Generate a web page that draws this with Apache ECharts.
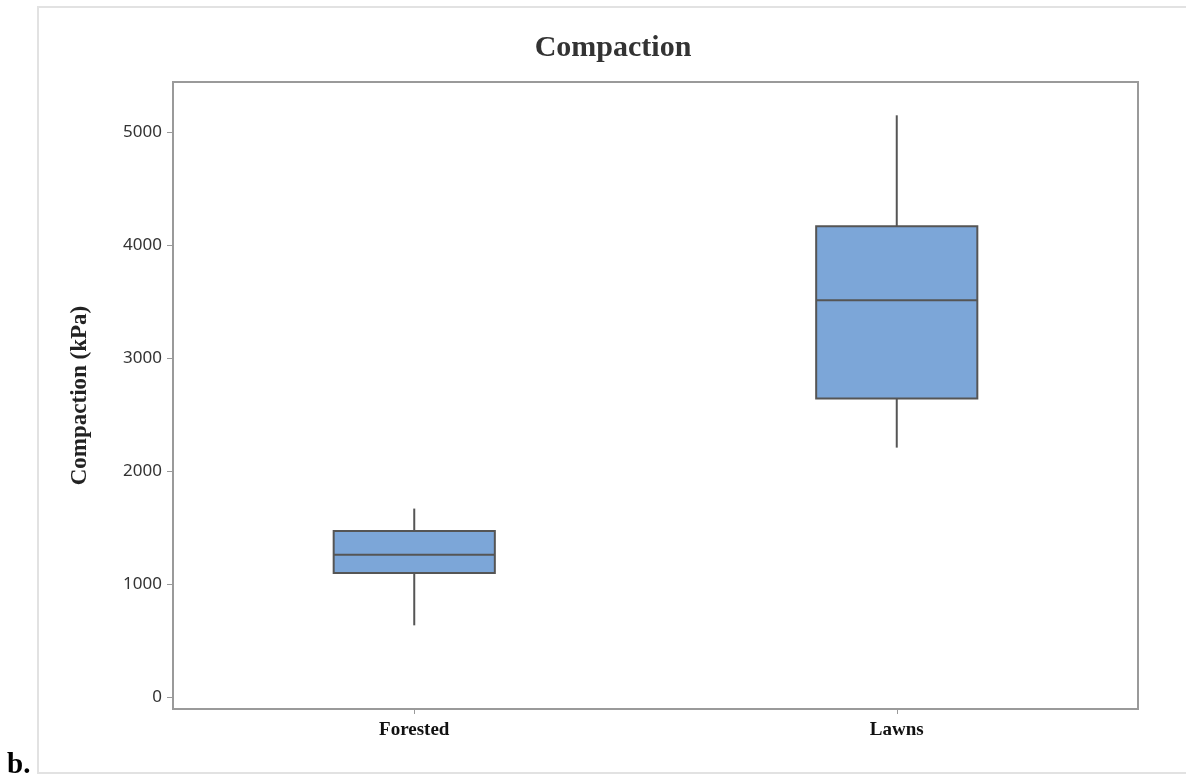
<!DOCTYPE html>
<html>
<head>
<meta charset="utf-8">
<script src="https://cdn.jsdelivr.net/npm/echarts@6/dist/echarts.min.js"></script>
<style>
html,body{margin:0;padding:0;background:#fff;}
#chart{width:1186px;height:778px;}
</style>
</head>
<body>
<div id="chart"></div>
<script>
// Data
const categories = ['Forested', 'Lawns'];
const whiskerLow = [635, 2209];
const q1 = [1098, 2643];
const medians = [1261, 3514];
const q3 = [1470, 4169];
const whiskerHigh = [1669, 5152];
const yTicks = [0, 1000, 2000, 3000, 4000, 5000];
const titleText = 'Compaction';
const yName = 'Compaction (kPa)';

const boxData = categories.map((c, i) => [i, whiskerLow[i], q1[i], medians[i], q3[i], whiskerHigh[i]]);

const chart = echarts.init(document.getElementById('chart'));
const lineCol = '#555';
chart.setOption({
  animation: false,
  backgroundColor: '#fff',
  grid: { left: 173, right: 48, top: 82, bottom: 69, show: true, borderColor: '#9a9a9a', borderWidth: 2, backgroundColor: 'transparent' },
  graphic: [
    { type: 'rect', shape: { x: 38, y: 7, width: 1160, height: 766 }, style: { fill: 'none', stroke: '#e2e2e2', lineWidth: 2 }, z: -1 },
    { type: 'text', x: 613, y: 48, style: { text: titleText, font: 'bold 30px "Liberation Serif", serif', fill: '#333', textAlign: 'center', textVerticalAlign: 'middle' } },
    { type: 'text', x: 7, y: 766, style: { text: 'b.', font: 'bold 29px "Liberation Serif", serif', fill: '#000', textAlign: 'left', textVerticalAlign: 'middle' } }
  ],
  xAxis: {
    type: 'category',
    data: categories,
    boundaryGap: true,
    axisLine: { show: true, onZero: false, lineStyle: { color: '#9a9a9a', width: 2 } },
    axisTick: { show: true, alignWithLabel: true, length: 5, lineStyle: { color: '#9a9a9a' } },
    axisLabel: { margin: 12, color: '#111', fontFamily: '"Liberation Serif", serif', fontWeight: 'bold', fontSize: 19 },
    splitLine: { show: false }
  },
  yAxis: {
    type: 'value',
    min: -106,
    max: 5447,
    name: yName,
    nameLocation: 'middle',
    nameGap: 81,
    nameTextStyle: { fontFamily: '"Liberation Serif", serif', fontWeight: 'bold', fontSize: 23, color: '#222' },
    axisLine: { show: true, lineStyle: { color: '#9a9a9a', width: 2 } },
    axisTick: { show: true, length: 6, customValues: yTicks, lineStyle: { color: '#9a9a9a' } },
    axisLabel: { margin: 11, customValues: yTicks, formatter: function (v) { return String(v); }, color: '#333', fontFamily: '"Noto Sans", sans-serif', fontSize: 17 },
    splitLine: { show: false }
  },
  series: [{
    type: 'custom',
    data: boxData,
    encode: { x: 0, y: [1, 2, 3, 4, 5] },
    renderItem: function (params, api) {
      const idx = api.value(0);
      const bw = api.size([1, 0])[0] * 0.334;
      const pLow = api.coord([idx, api.value(1)]);
      const pQ1 = api.coord([idx, api.value(2)]);
      const pMed = api.coord([idx, api.value(3)]);
      const pQ3 = api.coord([idx, api.value(4)]);
      const pHigh = api.coord([idx, api.value(5)]);
      const cx = pMed[0];
      const stroke = { stroke: lineCol, lineWidth: 2 };
      return {
        type: 'group',
        children: [
          { type: 'line', shape: { x1: cx, y1: pQ1[1], x2: cx, y2: pLow[1] }, style: stroke },
          { type: 'line', shape: { x1: cx, y1: pQ3[1], x2: cx, y2: pHigh[1] }, style: stroke },
          { type: 'rect', shape: { x: cx - bw / 2, y: pQ3[1], width: bw, height: pQ1[1] - pQ3[1] }, style: { fill: '#7CA6D8', stroke: lineCol, lineWidth: 2 } },
          { type: 'line', shape: { x1: cx - bw / 2, y1: pMed[1], x2: cx + bw / 2, y2: pMed[1] }, style: stroke }
        ]
      };
    }
  }]
});
</script>
</body>
</html>
